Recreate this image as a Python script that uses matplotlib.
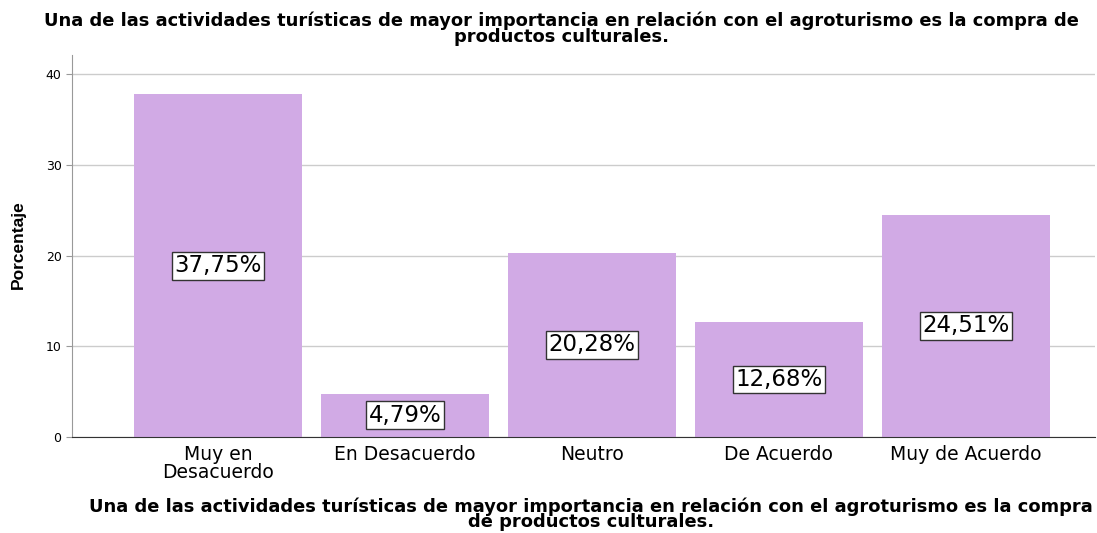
import matplotlib.pyplot as plt

categories = ["Muy en\nDesacuerdo", "En Desacuerdo", "Neutro", "De Acuerdo", "Muy de Acuerdo"]
values = [37.75, 4.79, 20.28, 12.68, 24.51]
labels = ["37,75%", "4,79%", "20,28%", "12,68%", "24,51%"]
yticks = [0, 10, 20, 30, 40]

TITLE = ("Una de las actividades turísticas de mayor importancia en relación con el agroturismo es la compra de\n"
         "productos culturales.")
XLABEL = ("Una de las actividades turísticas de mayor importancia en relación con el agroturismo es la compra\n"
          "de productos culturales.")


def main():
    plt.rcParams["font.family"] = ["DejaVu Sans"]
    fig = plt.figure(figsize=(10.97, 5.33), dpi=100)
    ax = fig.add_axes([72 / 1097, 1 - 437 / 533, (1095 - 72) / 1097, (437 - 55) / 533])

    x = range(len(categories))
    ax.bar(x, values, width=0.9, color="#d1aae5", zorder=2)
    for xi, v, lab in zip(x, values, labels):
        ax.text(xi, v / 2, lab, ha="center", va="center", fontsize=16.5, zorder=3,
                bbox=dict(boxstyle="square,pad=0.1", facecolor="white", edgecolor="#333333", linewidth=1))

    ax.set_xlim(-0.78, 4.69)
    ax.set_ylim(0, 42.1)
    ax.set_yticks(yticks)
    ax.set_xticks(list(x))
    ax.set_xticklabels(categories, fontsize=13.5, linespacing=0.88)
    ax.tick_params(axis="y", labelsize=9, length=4, color="#999999")
    ax.tick_params(axis="x", length=0, pad=6)
    ax.yaxis.grid(True, color="#cccccc", linewidth=1, zorder=0)

    for s in ["top", "right"]:
        ax.spines[s].set_visible(False)
    ax.spines["left"].set_color("#999999")
    ax.spines["bottom"].set_color("#333333")

    fig.text(18 / 1097, 1 - 245 / 533, "Porcentaje", rotation=90, ha="center", va="center",
             fontsize=12.5, fontweight="bold", family="Liberation Sans")
    fig.text(0.512, 0.978, TITLE, ha="center", va="top", fontsize=12.9, fontweight="bold", linespacing=0.85)
    fig.text(0.539, 0.003, XLABEL, ha="center", va="bottom", fontsize=12.9, fontweight="bold", linespacing=0.85)

    fig.savefig("out.png", dpi=100, facecolor="white")
    plt.close(fig)


if __name__ == "__main__":
    main()
